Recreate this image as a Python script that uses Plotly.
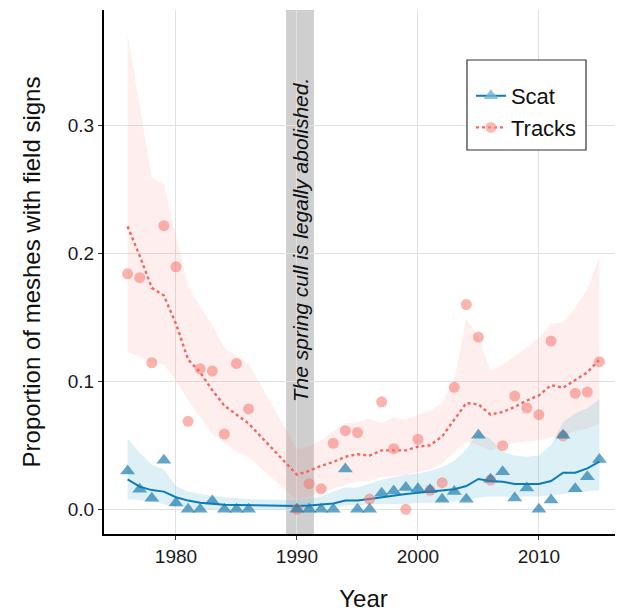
import plotly.graph_objects as go

# ---------------- data ----------------
years = [1976, 1977, 1978, 1979, 1980, 1981, 1982, 1983, 1984, 1985, 1986,
         1990, 1991, 1992, 1993, 1994, 1995, 1996, 1997, 1998, 1999, 2000,
         2001, 2002, 2003, 2004, 2005, 2006, 2007, 2008, 2009, 2010, 2011,
         2012, 2013, 2014, 2015]

tracks_obs = [0.184, 0.181, 0.1145, 0.2216, 0.1895, 0.0687, 0.1098, 0.108, 0.0588, 0.114, 0.0784,
              0.0, 0.020, 0.016, 0.0516, 0.0614, 0.060, 0.008, 0.084, 0.0474, 0.0, 0.0547,
              0.0148, 0.0208, 0.0953, 0.160, 0.1346, 0.0229, 0.0497, 0.0885, 0.0791, 0.0739, 0.1315,
              0.0573, 0.0906, 0.0916, 0.1153]

scat_obs = [0.030, 0.0156, 0.0086, 0.0383, 0.005, 0.0, 0.0, 0.0065, 0.0, 0.0, 0.0,
            0.0, 0.0, 0.0, 0.0, 0.0315, 0.0, 0.0, 0.0125, 0.0143, 0.017, 0.016,
            0.0153, 0.0078, 0.0140, 0.0078, 0.0578, 0.0234, 0.0294, 0.0088, 0.0166, 0.0, 0.0073,
            0.0578, 0.0160, 0.0255, 0.039]

tracks_fit = [0.221, 0.198, 0.173, 0.167, 0.145, 0.117, 0.107, 0.093, 0.081, 0.074, 0.067,
              0.027, 0.030, 0.034, 0.037, 0.041, 0.043, 0.042, 0.046, 0.046, 0.046, 0.049,
              0.050, 0.057, 0.070, 0.083, 0.082, 0.074, 0.076, 0.080, 0.085, 0.089, 0.097,
              0.095, 0.101, 0.107, 0.117]
tracks_lo = [0.123, 0.119, 0.115, 0.113, 0.101, 0.085, 0.072, 0.059, 0.052, 0.045, 0.041,
             0.007, 0.010, 0.013, 0.016, 0.019, 0.022, 0.022, 0.025, 0.026, 0.027, 0.029,
             0.031, 0.036, 0.045, 0.053, 0.050, 0.046, 0.049, 0.052, 0.053, 0.054, 0.056,
             0.057, 0.061, 0.063, 0.067]
tracks_hi = [0.371, 0.315, 0.259, 0.254, 0.214, 0.174, 0.158, 0.144, 0.126, 0.120, 0.114,
             0.047, 0.049, 0.054, 0.061, 0.067, 0.068, 0.071, 0.067, 0.072, 0.070, 0.074,
             0.077, 0.083, 0.101, 0.149, 0.135, 0.108, 0.113, 0.120, 0.126, 0.134, 0.145,
             0.146, 0.157, 0.172, 0.197]

scat_fit = [0.0234, 0.0177, 0.015, 0.0138, 0.0094, 0.0068, 0.0052, 0.0042, 0.0036, 0.0034, 0.0032,
            0.0026, 0.003, 0.0035, 0.0045, 0.0068, 0.0068, 0.008, 0.0094, 0.0107, 0.012, 0.013,
            0.0138, 0.0143, 0.0156, 0.0182, 0.0237, 0.0221, 0.0216, 0.0198, 0.0198, 0.0198, 0.0221,
            0.0286, 0.0286, 0.032, 0.0372]
scat_lo = [0.008, 0.007, 0.006, 0.004, 0.002, 0.001, 0.0, 0.0, 0.0, 0.0, 0.0,
           0.0, 0.0, 0.001, 0.002, 0.003, 0.003, 0.004, 0.004, 0.004, 0.004, 0.005,
           0.005, 0.006, 0.006, 0.007, 0.009, 0.010, 0.010, 0.010, 0.010, 0.010, 0.011,
           0.012, 0.013, 0.014, 0.015]
scat_hi = [0.0555, 0.044, 0.035, 0.031, 0.018, 0.014, 0.012, 0.0104, 0.0094, 0.0086, 0.008,
           0.007, 0.008, 0.010, 0.014, 0.017, 0.017, 0.020, 0.023, 0.025, 0.027, 0.028,
           0.030, 0.033, 0.038, 0.047, 0.060, 0.055, 0.045, 0.042, 0.041, 0.042, 0.050,
           0.068, 0.075, 0.079, 0.086]

series_names = ["Scat", "Tracks"]
cull_period = [1989.1, 1991.4]
cull_label = "The spring cull is legally abolished."
x_ticks = [1980, 1990, 2000, 2010]
y_ticks = [0.0, 0.1, 0.2, 0.3]

# ---------------- styles ----------------
FONT = "Liberation Sans, Arial, sans-serif"
TR_LINE = "#F2675F"
TR_PT = "rgba(246,120,112,0.55)"
TR_RIB = "rgba(248,118,109,0.12)"
SC_LINE = "#0A7BBD"
SC_PT = "rgba(20,120,170,0.66)"
SC_RIB = "rgba(120,195,215,0.25)"

fig = go.Figure()

# ribbons
fig.add_trace(go.Scatter(x=years + years[::-1], y=tracks_hi + tracks_lo[::-1],
                         fill="toself", fillcolor=TR_RIB, line=dict(width=0),
                         mode="lines", hoverinfo="skip", showlegend=False))
fig.add_trace(go.Scatter(x=years + years[::-1], y=scat_hi + scat_lo[::-1],
                         fill="toself", fillcolor=SC_RIB, line=dict(width=0),
                         mode="lines", hoverinfo="skip", showlegend=False))

# fitted lines
fig.add_trace(go.Scatter(x=years, y=tracks_fit, mode="lines",
                         line=dict(color=TR_LINE, width=2.4, dash="dot"), showlegend=False))
fig.add_trace(go.Scatter(x=years, y=scat_fit, mode="lines",
                         line=dict(color=SC_LINE, width=2), showlegend=False))

# observed points
fig.add_trace(go.Scatter(x=years, y=tracks_obs, mode="markers",
                         marker=dict(symbol="circle", size=11, color=TR_PT, line=dict(width=0)),
                         showlegend=False))
fig.add_trace(go.Scatter(x=years, y=scat_obs, mode="markers",
                         marker=dict(symbol="triangle-up", size=13, color=SC_PT, line=dict(width=0)),
                         showlegend=False))

# legend entries
fig.add_trace(go.Scatter(x=[None], y=[None], mode="lines+markers", name=series_names[0],
                         line=dict(color=SC_LINE, width=2),
                         marker=dict(symbol="triangle-up", size=13, color="rgba(110,180,215,0.8)")))
fig.add_trace(go.Scatter(x=[None], y=[None], mode="lines+markers", name=series_names[1],
                         line=dict(color=TR_LINE, width=2.4, dash="dot"),
                         marker=dict(symbol="circle", size=11, color="rgba(246,140,132,0.6)")))

fig.add_shape(type="rect", xref="x", yref="paper", x0=cull_period[0], x1=cull_period[1],
              y0=0, y1=1, fillcolor="#CFCFCF", line=dict(width=0), layer="between")

# legend frame
fig.add_shape(type="rect", xref="paper", yref="paper", x0=0.6994, x1=0.9287, y0=0.7328, y1=0.9046,
              fillcolor="white", line=dict(color="#333333", width=1.2), layer="above")

fig.add_annotation(x=(cull_period[0] + cull_period[1]) / 2, y=0.211, xref="x", yref="y",
                   text="<i>" + cull_label + "</i>", textangle=-90, showarrow=False,
                   font=dict(family=FONT, size=21, color="#111111"))

fig.update_layout(
    width=615, height=608,
    margin=dict(l=96, r=0, t=2, b=82),
    paper_bgcolor="white", plot_bgcolor="white",
    font=dict(family=FONT, color="#222222"),
    legend=dict(x=0.707, y=0.876, xanchor="left", yanchor="top",
                bgcolor="rgba(0,0,0,0)", borderwidth=0,
                font=dict(family=FONT, size=22, color="#111111"),
                tracegroupgap=4),
    xaxis=dict(range=[1974.05, 2016.95], tickvals=x_ticks, ticktext=[str(v) for v in x_ticks],
               showgrid=True, gridcolor="#E1E1E1", gridwidth=1, zeroline=False,
               showline=True, linecolor="black", linewidth=2,
               ticks="outside", ticklen=4, tickcolor="#333333",
               tickfont=dict(family=FONT, size=19, color="#1a1a1a"),
               title=dict(text="Year", font=dict(family=FONT, size=24, color="#111111"), standoff=24)),
    yaxis=dict(range=[-0.0193, 0.3901], tickvals=y_ticks, ticktext=["%.1f" % v for v in y_ticks],
               showgrid=True, gridcolor="#E1E1E1", gridwidth=1, zeroline=False,
               showline=True, linecolor="black", linewidth=2,
               ticks="outside", ticklen=4, tickcolor="#333333",
               tickfont=dict(family=FONT, size=19, color="#1a1a1a"),
               title=dict(text="Proportion of meshes with field signs",
                          font=dict(family=FONT, size=24, color="#111111"), standoff=20)),
)

fig.write_html("out.html")
